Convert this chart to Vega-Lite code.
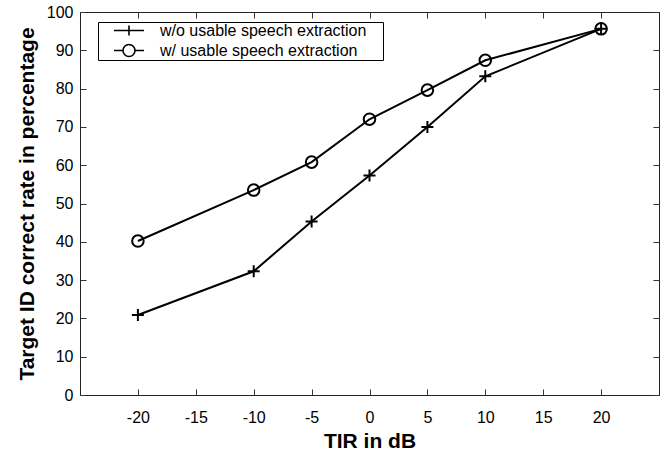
{
  "$schema": "https://vega.github.io/schema/vega-lite/v6.json",
  "autosize": "none",
  "width": 579,
  "height": 383,
  "padding": {"left": 80, "top": 12, "right": 5, "bottom": 56},
  "background": "white",
  "config": {
    "font": "Liberation Sans",
    "view": {"stroke": "#222", "strokeWidth": 1},
    "axis": {"grid": false, "domain": false, "tickColor": "#333", "tickSize": -6, "labelFont": "Liberation Sans", "labelFontSize": 16, "labelColor": "black", "titleFont": "Liberation Sans", "titleFontWeight": "bold", "titleColor": "black"}
  },
  "data": {
    "values": [
      {"x": -20, "y": 20.9, "series": "w/o usable speech extraction"},
      {"x": -10, "y": 32.3, "series": "w/o usable speech extraction"},
      {"x": -5, "y": 45.3, "series": "w/o usable speech extraction"},
      {"x": 0, "y": 57.3, "series": "w/o usable speech extraction"},
      {"x": 5, "y": 70.0, "series": "w/o usable speech extraction"},
      {"x": 10, "y": 83.2, "series": "w/o usable speech extraction"},
      {"x": 20, "y": 95.6, "series": "w/o usable speech extraction"},
      {"x": -20, "y": 40.2, "series": "w/ usable speech extraction"},
      {"x": -10, "y": 53.5, "series": "w/ usable speech extraction"},
      {"x": -5, "y": 60.8, "series": "w/ usable speech extraction"},
      {"x": 0, "y": 72.0, "series": "w/ usable speech extraction"},
      {"x": 5, "y": 79.6, "series": "w/ usable speech extraction"},
      {"x": 10, "y": 87.4, "series": "w/ usable speech extraction"},
      {"x": 20, "y": 95.6, "series": "w/ usable speech extraction"}
    ]
  },
  "layer": [
    {
      "mark": {"type": "line", "color": "black", "strokeWidth": 2},
      "encoding": {
        "x": {"field": "x", "type": "quantitative", "scale": {"domain": [-25, 25], "nice": false},
              "axis": {"orient": "bottom", "values": [-20, -15, -10, -5, 0, 5, 10, 15, 20], "labelExpr": "replace(datum.label, '\u2212', '-')", "labelPadding": 20, "title": "TIR in dB", "titleFontSize": 21, "titlePadding": 5}},
        "y": {"field": "y", "type": "quantitative", "scale": {"domain": [0, 100], "nice": false},
              "axis": {"orient": "left", "values": [0, 10, 20, 30, 40, 50, 60, 70, 80, 90, 100], "labelPadding": 13, "title": "Target ID correct rate in percentage", "titleFontSize": 21, "titlePadding": 9}},
        "detail": {"field": "series", "type": "nominal"}
      }
    },
    {
      "transform": [{"filter": "datum.series === 'w/o usable speech extraction'"}],
      "mark": {"type": "point", "shape": "M-1,0L1,0M0,-1L0,1", "size": 144, "filled": false, "stroke": "black", "strokeWidth": 2, "opacity": 1},
      "encoding": {
        "x": {"field": "x", "type": "quantitative", "axis": null},
        "y": {"field": "y", "type": "quantitative", "axis": null}
      }
    },
    {
      "transform": [{"filter": "datum.series === 'w/ usable speech extraction'"}],
      "mark": {"type": "point", "shape": "circle", "size": 133, "filled": false, "stroke": "black", "strokeWidth": 2, "opacity": 1},
      "encoding": {
        "x": {"field": "x", "type": "quantitative", "axis": null},
        "y": {"field": "y", "type": "quantitative", "axis": null}
      }
    },
    {
      "mark": {"type": "point", "opacity": 0, "filled": false, "stroke": "black"},
      "encoding": {
        "x": {"field": "x", "type": "quantitative",
              "axis": {"orient": "top", "values": [-20, -15, -10, -5, 0, 5, 10, 15, 20], "labels": false, "title": null}},
        "y": {"field": "y", "type": "quantitative",
              "axis": {"orient": "right", "values": [0, 10, 20, 30, 40, 50, 60, 70, 80, 90, 100], "labels": false, "title": null}},
        "shape": {"field": "series", "type": "nominal",
                  "scale": {"domain": ["w/o usable speech extraction", "w/ usable speech extraction"],
                            "range": ["M-2,0L2,0M0,-0.67L0,0.67M33.4,0M0,-1.87", "M-2,0L-0.8,0M0.8,0L2,0M0.8,0A0.8,0.8,0,1,1,-0.8,0A0.8,0.8,0,1,1,0.8,0M33.4,0"]},
                  "legend": {"orient": "none", "legendX": 18, "legendY": 10, "title": null, "symbolSize": 225, "symbolOpacity": 1,
                             "symbolStrokeColor": "black", "symbolFillColor": "transparent", "symbolStrokeWidth": 1.6,
                             "labelFont": "Liberation Sans", "labelFontSize": 16, "labelColor": "black", "labelOffset": 22.5, "labelLimit": 0,
                             "symbolOffset": 22.5, "rowPadding": 2, "padding": 0, "strokeColor": "black", "fillColor": "white"}}
      }
    }
  ],
  "resolve": {"axis": {"x": "independent", "y": "independent"}}
}
